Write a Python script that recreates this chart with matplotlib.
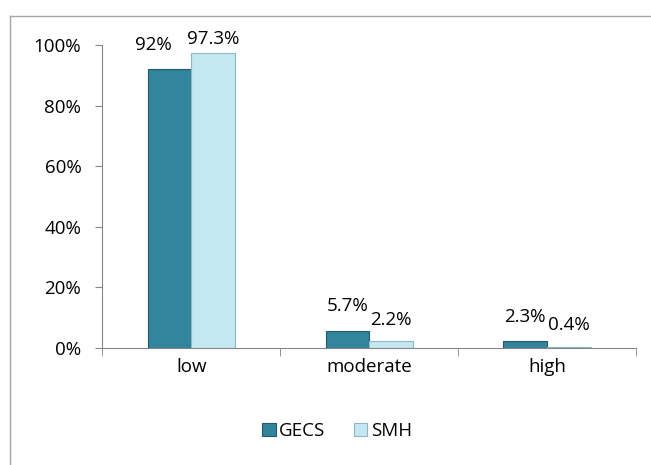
import matplotlib.pyplot as plt
import numpy as np
from matplotlib.lines import Line2D

categories = ['low', 'moderate', 'high']
gecs = [92, 5.7, 2.3]
smh = [97.3, 2.2, 0.4]
gecs_labels = ['92%', '5.7%', '2.3%']
smh_labels = ['97.3%', '2.2%', '0.4%']

plt.rcParams['font.family'] = ['Open Sans', 'DejaVu Sans']
fs = 13.5

fig = plt.figure(figsize=(6.51, 4.65), dpi=100)
ax = fig.add_axes([0.157, 0.252, 0.82, 0.651])

x = np.arange(len(categories))
w = 0.245
ax.bar(x - w / 2, gecs, w, color='#31859C', edgecolor='#215968', linewidth=0.8, label='GECS')
ax.bar(x + w / 2, smh, w, color='#C3E8F2', edgecolor='#8FB7C2', linewidth=0.8, label='SMH')

for i, (xi, v, t) in enumerate(zip(x - w / 2, gecs, gecs_labels)):
    # the label above the tall 'low' bar sits a little to the left in the original
    dx = -0.09 if v > 90 else 0
    ax.text(xi + dx, min(v + 8.0, 100.5), t, ha='center', va='center', fontsize=fs)
for xi, v, t in zip(x + w / 2, smh, smh_labels):
    ax.text(xi, min(v + 7.0, 102.0), t, ha='center', va='center', fontsize=fs)

ax.set_xlim(-0.5, 2.5)
ax.set_ylim(0, 100)
ax.set_yticks(range(0, 101, 20))
ax.set_yticklabels([f'{v}%' for v in range(0, 101, 20)], fontsize=fs)
ax.set_xticks(x)
ax.set_xticklabels(categories, fontsize=fs)
ax.tick_params(axis='x', length=0, pad=7)
ax.set_xticks([-0.5, 0.5, 1.5, 2.5], minor=True)
ax.tick_params(axis='x', which='minor', length=6, color='#868686')
ax.tick_params(axis='y', length=5, color='#868686', pad=10)
for s in ['top', 'right']:
    ax.spines[s].set_visible(False)
for s in ['left', 'bottom']:
    ax.spines[s].set_color('#868686')

ax.legend(loc='center', bbox_to_anchor=(0.44, -0.274), ncol=2, frameon=False,
          fontsize=fs, handlelength=0.7, handleheight=0.7, handletextpad=0.2, columnspacing=1.5)

# outer chart border (only top and left visible in the crop)
fig.add_artist(Line2D([10 / 651, 10 / 651], [0, 1 - 16 / 465], transform=fig.transFigure,
                      color='#A6A6A6', linewidth=1))
fig.add_artist(Line2D([10 / 651, 1], [1 - 16 / 465, 1 - 16 / 465], transform=fig.transFigure,
                      color='#A6A6A6', linewidth=1))

fig.savefig('out.png', dpi=100)
